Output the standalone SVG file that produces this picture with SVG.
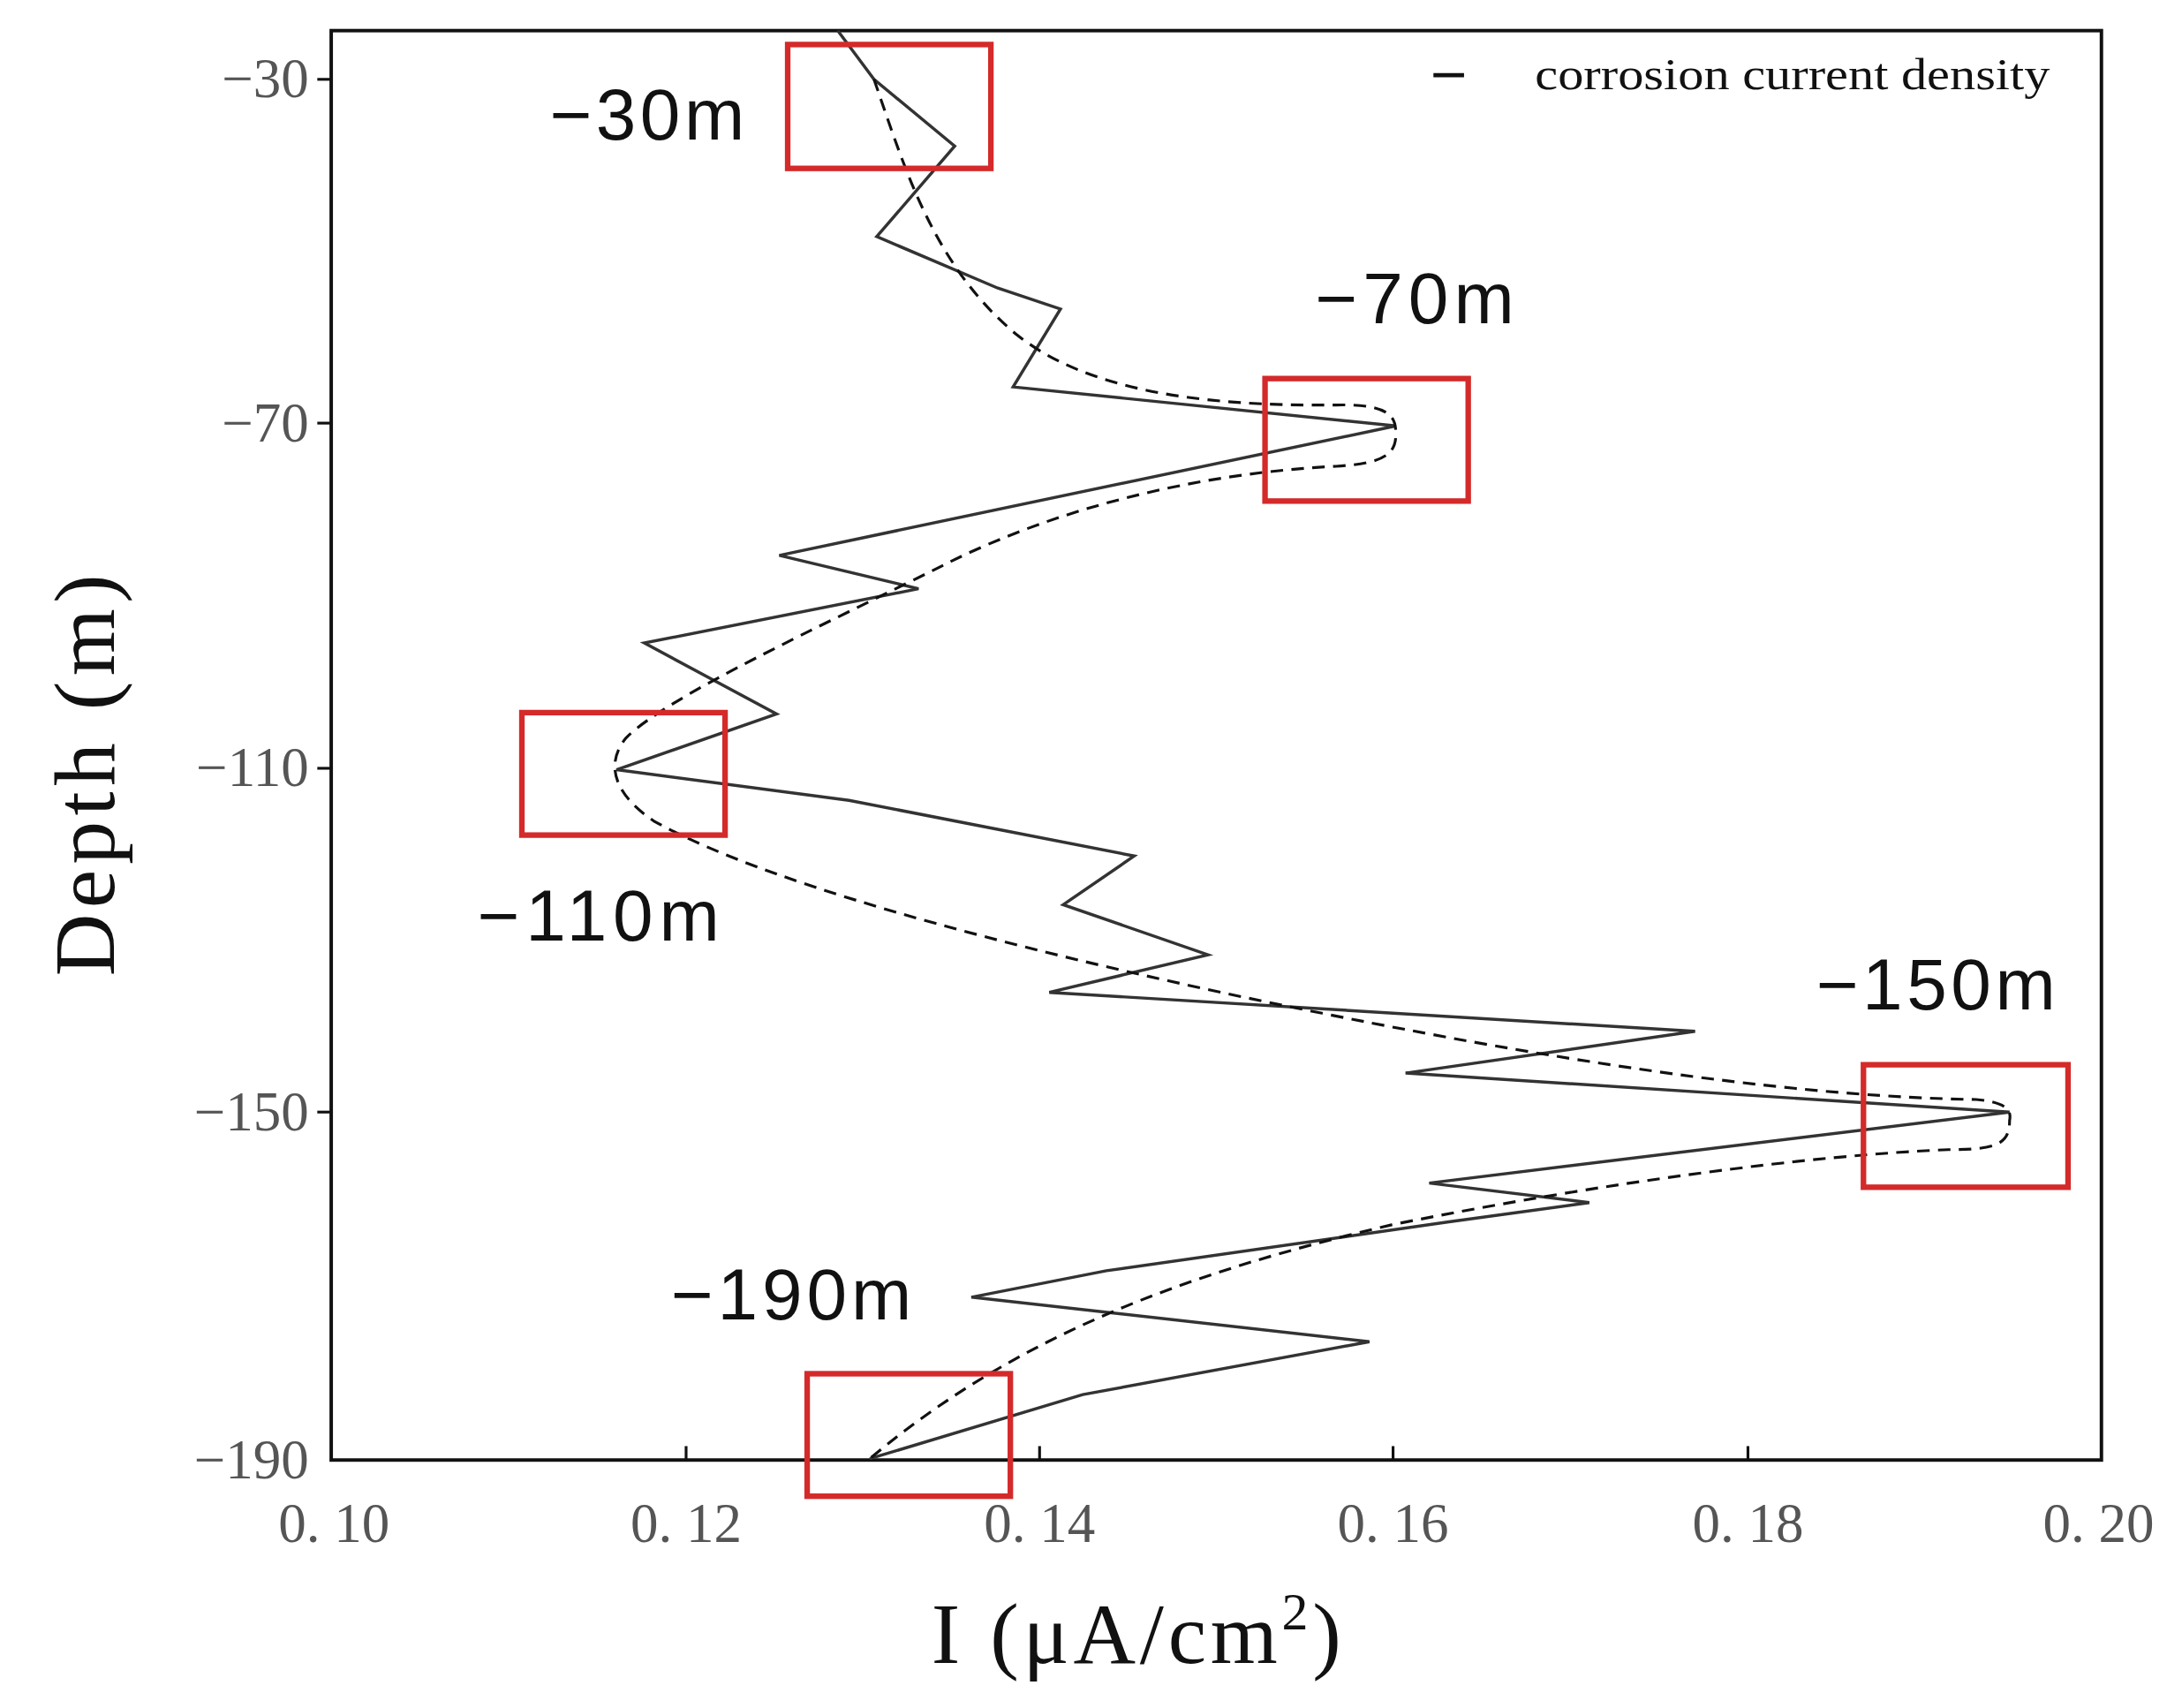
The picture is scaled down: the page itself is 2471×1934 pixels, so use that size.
<svg xmlns="http://www.w3.org/2000/svg" width="2471" height="1934" viewBox="0 0 2471 1934">
<style>
.ax{fill:none;stroke:#111;stroke-width:2.5}
.tk{stroke:#111;stroke-width:2}
.tl{font-family:"Liberation Serif",serif;font-size:40px;fill:#555}
.lb{font-family:"Liberation Sans","Noto Sans",sans-serif;font-size:52px;fill:#111}
.rb{fill:none;stroke:#d42a2a;stroke-width:4}
.ti{font-family:"Liberation Serif",serif;font-size:62px;fill:#111}
</style>
<rect width="2471" height="1934" fill="#fff"/>
<g transform="scale(1.576)">
<g id="axes">
<rect class="ax" x="238" y="22" width="1272" height="1027"/>
<g class="tk">
<line x1="238" y1="57" x2="228" y2="57"/><line x1="238" y1="304" x2="228" y2="304"/><line x1="238" y1="552" x2="228" y2="552"/><line x1="238" y1="799" x2="228" y2="799"/>
<line x1="493" y1="1049" x2="493" y2="1039"/><line x1="747" y1="1049" x2="747" y2="1039"/><line x1="1001" y1="1049" x2="1001" y2="1039"/><line x1="1256" y1="1049" x2="1256" y2="1039"/>
</g>
<g class="tl" text-anchor="end">
<text x="222" y="70">−30</text><text x="222" y="317">−70</text><text x="222" y="565">−110</text><text x="222" y="812">−150</text><text x="222" y="1062">−190</text>
</g>
<g class="tl" text-anchor="middle">
<text x="240" y="1108">0. 10</text><text x="493" y="1108">0. 12</text><text x="747" y="1108">0. 14</text><text x="1001" y="1108">0. 16</text><text x="1256" y="1108">0. 18</text><text x="1508" y="1108">0. 20</text>
</g>
<text class="ti" transform="translate(82,555) rotate(-90)" text-anchor="middle" letter-spacing="4">Depth (m)</text>
<text class="ti" x="818" y="1195" text-anchor="middle" letter-spacing="3">I (μA/cm<tspan font-size="38" dy="-24">2</tspan><tspan dy="24">)</tspan></text>
</g>
<g id="legend">
<line x1="1030" y1="54" x2="1052" y2="54" stroke="#111" stroke-width="3"/>
<text x="1103" y="64" font-family="Liberation Serif,serif" font-size="32" textLength="370" lengthAdjust="spacingAndGlyphs" fill="#111">corrosion current density</text>
</g>
<g id="connectors">
<polyline fill="none" stroke="#333" stroke-width="2.2" stroke-linejoin="miter" points="602,22 628,57 686,105 630,170 717,207 762,222 728,278 1003,306 560,399 660,423 463,462 558,513 443,553 610,575 815,615 764,650 868,686 754,713 1218,741 1010,771 1444,799 1027,850 1142,864 1040,878 795,913 698,932 984,964 778,1002 625,1048"/>
<path fill="none" stroke="#111" stroke-width="2" stroke-dasharray="9,6" d="M628,57 C650,120 670,190 730,240 C780,280 860,292 960,291 C1000,290 1003,300 1003,312 C1003,326 995,333 960,335 C860,340 760,365 680,405 C590,450 480,500 450,530 C435,548 440,570 470,590 C560,640 760,690 950,728 C1150,768 1300,788 1420,790 C1445,792 1445,800 1444,805 C1444,822 1435,826 1400,826 C1300,830 1150,850 1000,880 C850,915 730,960 625,1048"/>
</g>
<g id="box-30"><rect class="rb" x="566" y="32" width="146" height="89"/><text class="lb" x="395" y="100" textLength="140">−30m</text></g>
<g id="box-70"><rect class="rb" x="909" y="272" width="146" height="88"/><text class="lb" x="945" y="232" textLength="143">−70m</text></g>
<g id="box-110"><rect class="rb" x="375" y="512" width="146" height="88"/><text class="lb" x="343" y="676" textLength="174">−110m</text></g>
<g id="box-150"><rect class="rb" x="1339" y="765" width="147" height="88"/><text class="lb" x="1305" y="725" textLength="172">−150m</text></g>
<g id="box-190"><rect class="rb" x="580" y="987" width="146" height="88"/><text class="lb" x="482" y="948" textLength="173">−190m</text></g>
</g>
</svg>
